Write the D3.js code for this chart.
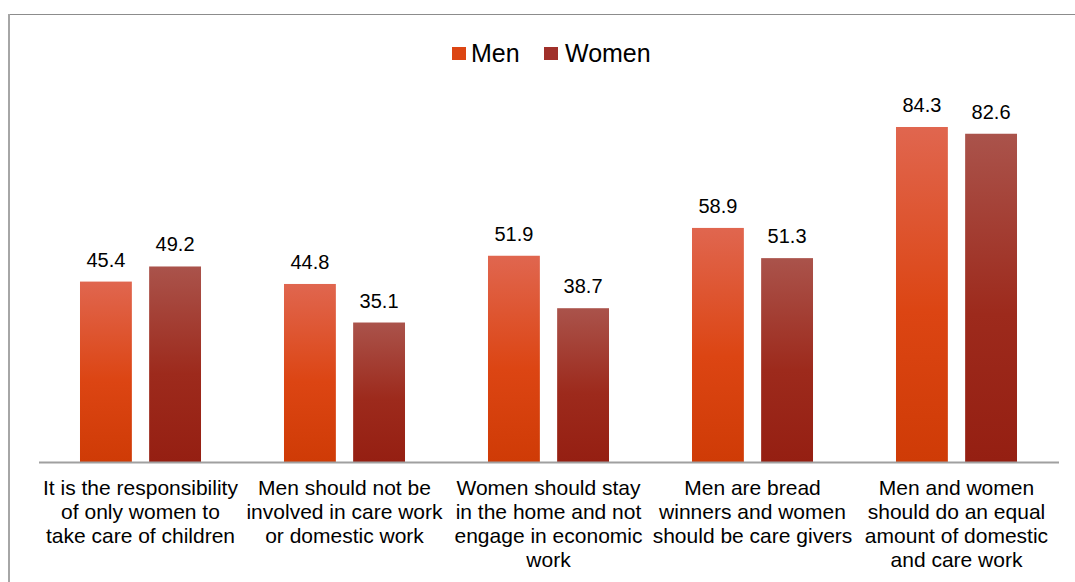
<!DOCTYPE html>
<html>
<head>
<meta charset="utf-8">
<script src="https://cdn.jsdelivr.net/npm/d3@7/dist/d3.min.js"></script>
<style>
  html, body { margin: 0; padding: 0; background: #fff; }
  svg { display: block; font-family: "Liberation Sans", Arial, sans-serif; }
</style>
</head>
<body>
<svg id="chart" width="1075" height="582"></svg>
<script>
const categories = [
  "It is the responsibility of only women to take care of children",
  "Men should not be involved in care work or domestic work",
  "Women should stay in the home and not engage in economic work",
  "Men are bread winners and women should be care givers",
  "Men and women should do an equal amount of domestic and care work"
];
const categoryLines = [
  ["It is the responsibility", "of only women to", "take care of children"],
  ["Men should not be", "involved in care work", "or domestic work"],
  ["Women should stay", "in the home and not", "engage in economic", "work"],
  ["Men are bread", "winners and women", "should be care givers"],
  ["Men and women", "should do an equal", "amount of domestic", "and care work"]
];
const seriesNames = ["Men", "Women"];
const menValues = [45.4, 44.8, 51.9, 58.9, 84.3];
const womenValues = [49.2, 35.1, 38.7, 51.3, 82.6];

const svg = d3.select("#chart");
const W = 1075, H = 582;

// frame
svg.append("line").attr("x1", 9).attr("x2", W).attr("y1", 14.5).attr("y2", 14.5)
  .attr("stroke", "#8c8c8c").attr("stroke-width", 1);
svg.append("line").attr("x1", 9).attr("x2", 9).attr("y1", 14).attr("y2", H)
  .attr("stroke", "#a6a6a6").attr("stroke-width", 2);

const left = 38.5, right = 1058.5, baseY = 462;
const x0 = d3.scaleBand().domain(categories).range([left, right]).paddingInner(0).paddingOuter(0);
const x1 = d3.scaleBand().domain(seriesNames).range([0, x0.bandwidth()]).paddingInner(0.25).paddingOuter(0.6);
const y = d3.scaleLinear().domain([0, 100]).range([baseY, baseY - 397.4]);

const defs = svg.append("defs");
const gMen = defs.append("linearGradient").attr("id", "gMen").attr("x1", 0).attr("y1", 0).attr("x2", 0).attr("y2", 1);
gMen.append("stop").attr("offset", "0%").attr("stop-color", "#E0664F");
gMen.append("stop").attr("offset", "55%").attr("stop-color", "#DC4513");
gMen.append("stop").attr("offset", "100%").attr("stop-color", "#CF3B06");
const gWomen = defs.append("linearGradient").attr("id", "gWomen").attr("x1", 0).attr("y1", 0).attr("x2", 0).attr("y2", 1);
gWomen.append("stop").attr("offset", "0%").attr("stop-color", "#AA534B");
gWomen.append("stop").attr("offset", "55%").attr("stop-color", "#9D2A1C");
gWomen.append("stop").attr("offset", "100%").attr("stop-color", "#951F12");

const fills = { Men: "url(#gMen)", Women: "url(#gWomen)" };
const data = categories.map((c, i) => ({ cat: c, vals: [
  { s: "Men", v: menValues[i] }, { s: "Women", v: womenValues[i] } ] }));

const groups = svg.append("g").selectAll("g").data(data).join("g")
  .attr("transform", d => `translate(${x0(d.cat)},0)`);
groups.selectAll("rect").data(d => d.vals).join("rect")
  .attr("x", d => x1(d.s)).attr("width", x1.bandwidth())
  .attr("y", d => y(d.v)).attr("height", d => baseY - y(d.v))
  .attr("fill", d => fills[d.s]);
groups.selectAll("text").data(d => d.vals).join("text")
  .attr("x", d => x1(d.s) + x1.bandwidth() / 2)
  .attr("y", d => y(d.v) - 15)
  .attr("text-anchor", "middle")
  .attr("font-size", 20).attr("fill", "#000")
  .text(d => d.v.toFixed(1));

// baseline axis
const xAxis = d3.axisBottom(x0).tickSize(0).tickFormat("");
const ax = svg.append("g").attr("transform", `translate(0,${baseY})`).call(xAxis);
ax.select(".domain").attr("stroke", "#a0a0a0").attr("stroke-width", 2);

// category labels
const lab = svg.append("g");
categories.forEach((c, i) => {
  const t = lab.append("text").attr("text-anchor", "middle").attr("font-size", 21).attr("fill", "#000");
  categoryLines[i].forEach((ln, j) => {
    t.append("tspan").attr("x", x0(c) + x0.bandwidth() / 2).attr("y", 495 + j * 24).text(ln);
  });
});

// legend
const legend = svg.append("g");
const legItems = [
  { s: "Men", sx: 452, tx: 471, col: "#DC4513" },
  { s: "Women", sx: 544, tx: 565, col: "#A0302A" }
];
legItems.forEach(d => {
  legend.append("rect").attr("x", d.sx).attr("y", 47).attr("width", 14).attr("height", 13).attr("fill", d.col);
  legend.append("text").attr("x", d.tx).attr("y", 62).attr("font-size", 25).attr("fill", "#000").text(d.s);
});
</script>
</body>
</html>
